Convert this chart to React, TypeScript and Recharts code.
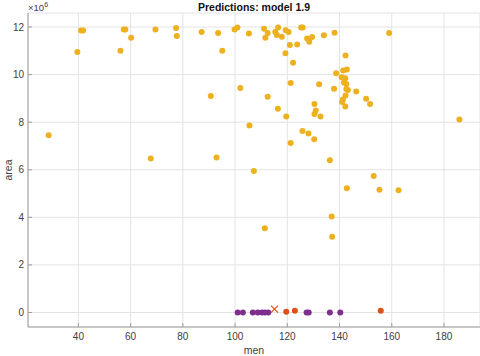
import React from "react";
import { ScatterChart, Scatter, XAxis, YAxis, CartesianGrid } from "recharts";

// predicted "large area" group (area in units of 1e6)
const bigMen = [
  28.6, 41.0, 41.8, 39.6, 57.4, 58.0, 56.1, 60.2, 69.5, 77.4, 77.7, 87.2, 93.5, 95.1,
  99.8, 100.9, 105.3, 90.7, 102.0, 105.5, 67.7, 92.9, 107.2, 111.1, 111.6, 112.5, 115.4,
  116.5, 116.0, 117.9, 119.4, 120.5, 125.3, 125.9, 121.0, 123.8, 127.6, 128.4, 129.5,
  134.0, 138.1, 119.3, 122.2, 142.3, 138.7, 141.4, 142.8, 140.8, 142.2, 141.7, 142.6,
  137.9, 142.6, 143.2, 142.3, 141.3, 141.0, 142.2, 146.4, 150.2, 151.7, 121.3, 132.2,
  130.4, 130.9, 130.4, 132.7, 116.4, 119.6, 112.5, 125.8, 128.1, 130.3, 121.3, 136.3,
  153.1, 185.9, 142.8, 155.3, 162.6, 137.0, 137.2, 111.4, 159.0,
];
const bigArea = [
  7.45, 11.85, 11.85, 10.95, 11.9, 11.9, 11.0, 11.55, 11.9, 11.96, 11.62, 11.79, 11.75, 11.0,
  11.9, 11.98, 11.73, 9.1, 9.44, 7.86, 6.47, 6.52, 5.95, 11.93, 11.55, 11.75, 11.79,
  11.98, 11.66, 11.59, 11.86, 11.79, 11.98, 11.98, 11.24, 11.27, 11.52, 11.38, 11.58,
  11.65, 11.76, 10.9, 10.5, 10.8, 10.06, 10.17, 10.21, 9.89, 9.85, 9.67, 9.61,
  9.41, 9.4, 9.35, 9.12, 8.95, 8.85, 8.66, 9.29, 8.99, 8.76, 9.65, 9.6,
  8.76, 8.49, 8.34, 8.24, 8.56, 8.24, 9.07, 7.63, 7.52, 7.28, 7.12, 6.4,
  5.74, 8.11, 5.22, 5.16, 5.14, 4.03, 3.18, 3.54, 11.75,
];

// near-zero group
const purpleMen = [101, 103, 106.8, 108.7, 110.3, 111.4, 112.7, 127.4, 128.2, 136.3, 140.3];
const purpleArea = [0, 0, 0, 0, 0, 0, 0, 0, 0, 0, 0];
const redMen = [119.6, 122.9, 155.8];
const redArea = [0.03, 0.07, 0.07];
const crossMen = [115.1];
const crossArea = [0.14];

const xTicks = [40, 60, 80, 100, 120, 140, 160, 180];
const yTicks = [0, 2, 4, 6, 8, 10, 12];

const zip = (xs: number[], ys: number[]) => xs.map((x, i) => ({ men: x, area: ys[i] }));

const FONT = "'Liberation Sans', Arial, Helvetica, sans-serif";
const AXIS = "#9c9c9c";
const TEXT = "#404040";

const dot = (color: string) => (p: any) => (
  <circle cx={p.cx} cy={p.cy} r={3} fill={color} />
);

const cross = (p: any) => (
  <g stroke="#D95319" strokeWidth={1.3}>
    <line x1={p.cx - 3.5} y1={p.cy - 3.5} x2={p.cx + 3.5} y2={p.cy + 3.5} />
    <line x1={p.cx - 3.5} y1={p.cy + 3.5} x2={p.cx + 3.5} y2={p.cy - 3.5} />
  </g>
);

export default function App() {
  return (
    <div style={{ position: "absolute", left: 0, top: 0, width: 480, height: 356, background: "#fff", fontFamily: FONT }}>
      <ScatterChart width={480} height={356} margin={{ top: 13, right: 0, bottom: 0, left: 0 }}>
        <CartesianGrid stroke="#e3e3e3" />
        <XAxis
          type="number"
          dataKey="men"
          domain={[20.7, 193.8]}
          ticks={xTicks}
          interval={0}
          allowDataOverflow
          height={29}
          stroke={AXIS}
          tickSize={-4}
          tickMargin={10}
          tick={{ fill: TEXT, fontSize: 10, fontFamily: FONT }}
        />
        <YAxis
          type="number"
          dataKey="area"
          domain={[-0.61, 12.59]}
          ticks={yTicks}
          interval={0}
          allowDataOverflow
          width={28}
          stroke={AXIS}
          tickSize={-4}
          tickMargin={8}
          tick={{ fill: TEXT, fontSize: 10, fontFamily: FONT }}
        />
        <Scatter data={zip(bigMen, bigArea)} shape={dot("#EDB120")} isAnimationActive={false} />
        <Scatter data={zip(purpleMen, purpleArea)} shape={dot("#7E2F8E")} isAnimationActive={false} />
        <Scatter data={zip(redMen, redArea)} shape={dot("#D95319")} isAnimationActive={false} />
        <Scatter data={zip(crossMen, crossArea)} shape={cross} isAnimationActive={false} />
      </ScatterChart>
      <div style={{ position: "absolute", left: 0, width: 508, top: 1, textAlign: "center", fontSize: 10.5, fontWeight: "bold", color: "#111" }}>
        Predictions: model 1.9
      </div>
      <div style={{ position: "absolute", left: 28, top: 1, fontSize: 9.5, color: TEXT }}>
        ×10<sup style={{ fontSize: 7 }}>6</sup>
      </div>
      <div style={{ position: "absolute", left: 0, width: 508, top: 344, textAlign: "center", fontSize: 10.5, color: TEXT }}>
        men
      </div>
      <div style={{ position: "absolute", left: 8, top: 170, fontSize: 10.5, color: TEXT, transform: "translate(-50%, -50%) rotate(-90deg)" }}>
        area
      </div>
    </div>
  );
}
